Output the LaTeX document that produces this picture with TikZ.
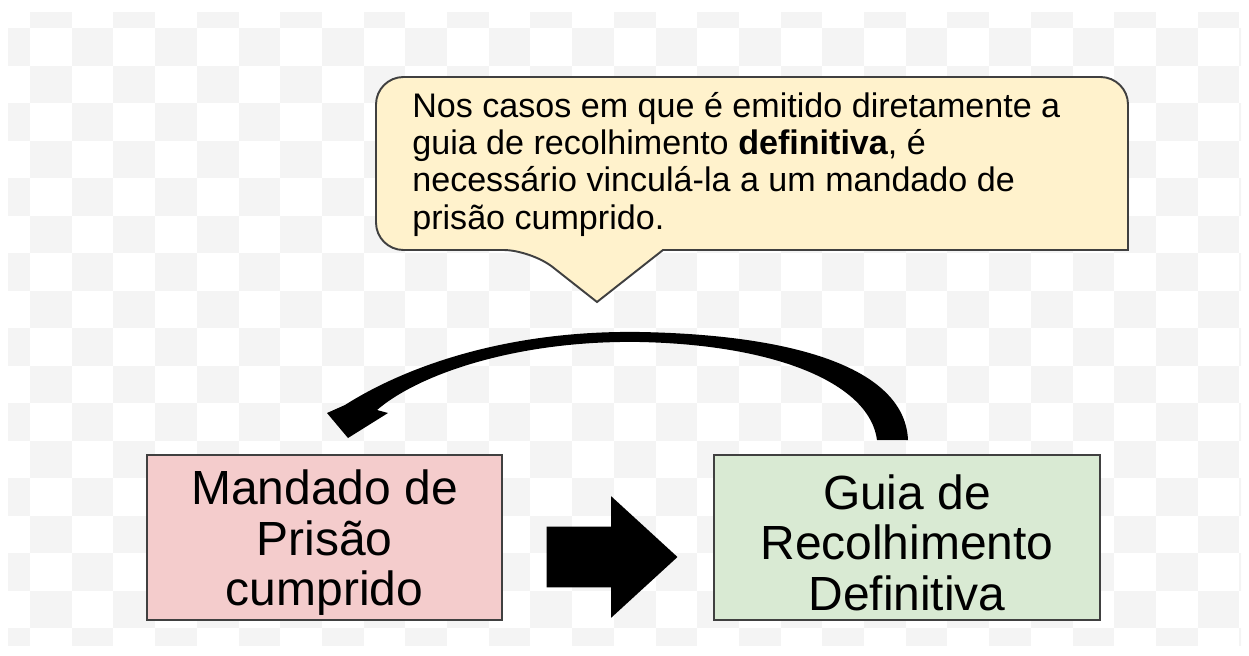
\documentclass[tikz,border=0pt]{standalone}
\usepackage{fontspec}
\setmainfont{Liberation Sans}
\usepackage{tikz}
\usetikzlibrary{shapes.arrows, arrows.meta}
\usepackage{color}

\definecolor{rosa}{HTML}{F4CCCC}
\definecolor{verde}{HTML}{D9EAD3}
\definecolor{amarelo}{HTML}{FFF2CC}
\definecolor{borda}{HTML}{404040}
\definecolor{xadrez}{HTML}{F4F4F4}

\begin{document}
\begin{tikzpicture}[x=0.02cm, y=-0.02cm,
    caixa/.style={rectangle, draw=borda, line width=1.1pt, align=center,
        minimum height=3.3cm, inner sep=0pt,
        font=\fontsize{27.3}{28.6}\selectfont},
    balao/.style={fill=amarelo, draw=borda, line width=1.1pt}]
            \useasboundingbox (0,0) rectangle (1249,656);
            % Background
            \begin{scope}
                \clip (8,12) rectangle (1241,645);
                \foreach \i in {0,...,30}
                    \foreach \j in {0,...,17} {
                        \pgfmathparse{int(mod(\i+\j,2))}
                        \ifnum\pgfmathresult=1
                            \fill[xadrez] (-11.7+41.7*\i,-9.5+37.5*\j) rectangle ++(41.7,37.5);
                        \fi
                    }
            \end{scope}
            % Callout
            \draw[balao] (597,302) -- (663,250) -- (1128,250) [rounded corners=0.55cm]
                -- (1128,77) -- (376,77) -- (376,250) -- (531,250) [sharp corners] -- cycle;
            \node[anchor=north west, align=left, inner sep=0pt,
                font=\fontsize{19.4}{21.2}\selectfont] (nota) at (412,92)
                {Nos casos em que é emitido diretamente a\\
                 guia de recolhimento \textbf{definitiva}, é\\
                 necessário vinculá-la a um mandado de\\
                 prisão cumprido.};
            % Nodes
            \node[caixa, fill=rosa, minimum width=7.1cm] (mandado) at (324.5,537.5)
                {\rule{0pt}{0.9cm}Mandado de\\ Prisão\\ cumprido};
            \node[caixa, fill=verde, minimum width=7.72cm] (guia) at (907,537.5)
                {\rule{0pt}{0.9cm}Guia de\\ Recolhimento\\ Definitiva};
            % Connection
            \node[single arrow, fill=black, anchor=tip, inner xsep=0pt, inner ysep=0.6cm,
                minimum height=2.62cm, single arrow head extend=0.61cm,
                single arrow tip angle=85, single arrow head indent=0pt] (seta) at (678,557) {};
            \fill (908,440) .. controls (905,370) and (800,335) .. (640,332)
                .. controls (500,330) and (400,370) .. (345,405)
                -- (327,413) -- (348,438) -- (388,413) -- (377,410)
                .. controls (420,373) and (520,340) .. (640,342)
                .. controls (780,345) and (870,385) .. (877,440) -- cycle;
        \end{tikzpicture}
\end{document}
